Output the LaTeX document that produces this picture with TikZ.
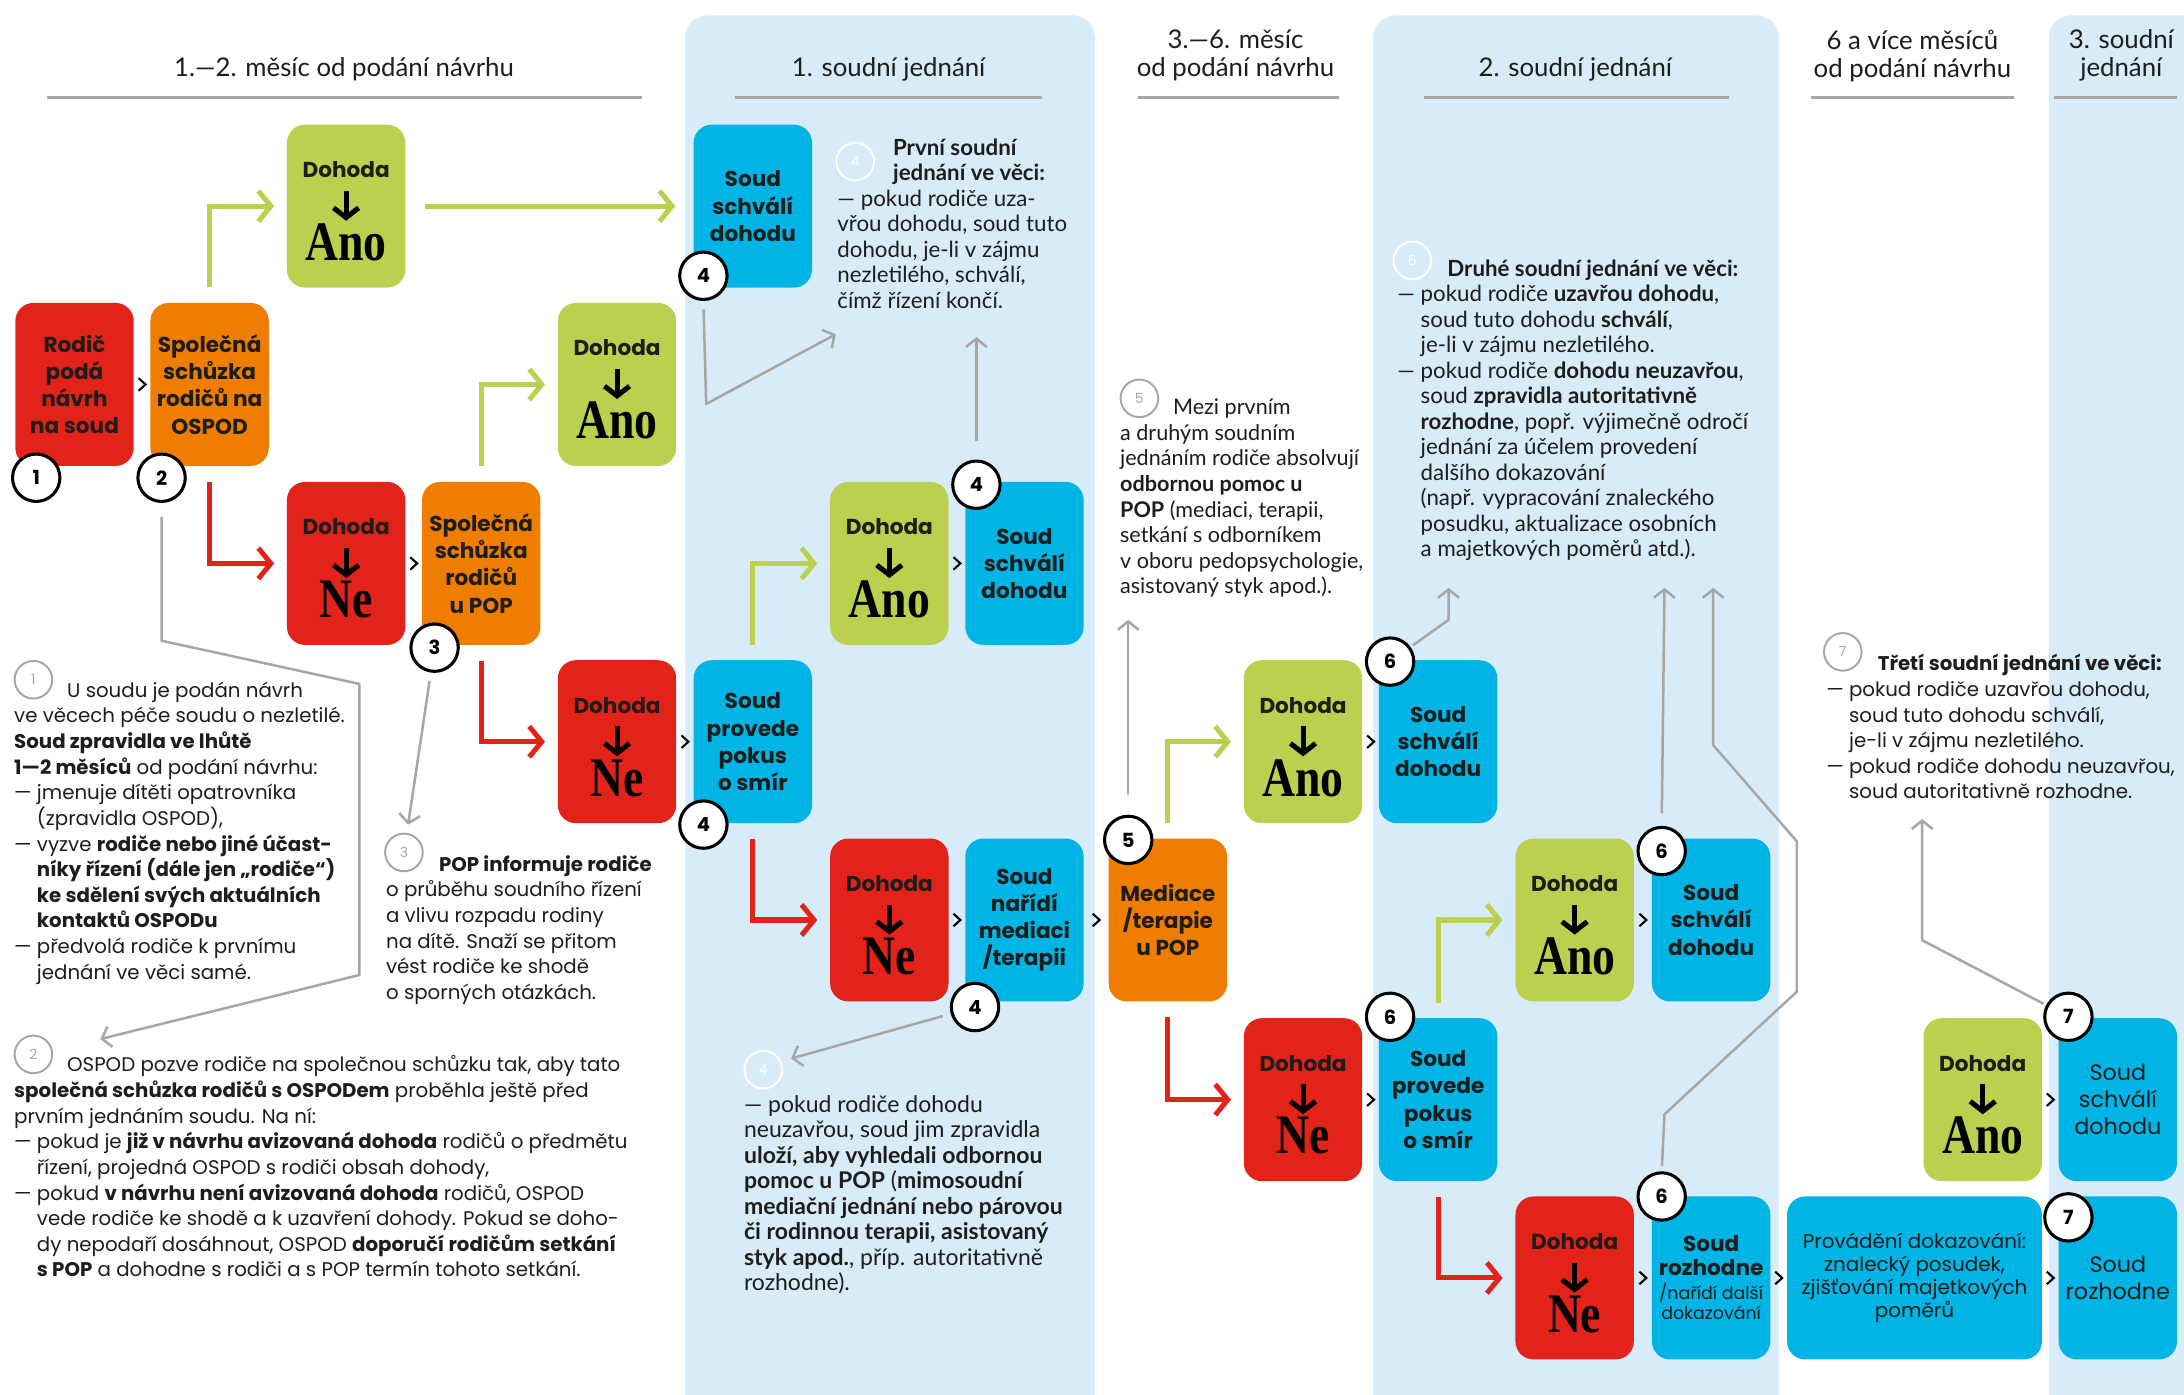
\documentclass[tikz,border=0pt]{standalone}
\usepackage{fontspec}
\setmainfont{Poppins}
\newfontfamily\lightf{Lato}
\newfontfamily\serifb[FakeStretch=0.82]{Liberation Serif}
\usetikzlibrary{arrows.meta,calc}
\definecolor{cred}{HTML}{E2231A}
\definecolor{corange}{HTML}{EF7D00}
\definecolor{cgreen}{HTML}{BDCF4E}
\definecolor{cblue}{HTML}{00B5E6}
\definecolor{cpanel}{HTML}{D7EBF8}
\definecolor{cgray}{HTML}{A6A6A6}
\definecolor{ctext}{HTML}{1D1D1B}
\tikzset{
  box/.style={rounded corners=13pt, minimum width=85pt, minimum height=117pt, inner sep=0pt, align=center, text=ctext, font=\fontsize{15.5}{19.5}\selectfont\bfseries},
  boxr/.style={box, font=\fontsize{16}{19.5}\selectfont},
  dlab/.style={anchor=base, inner sep=0pt, text=ctext, font=\fontsize{15.5}{19}\selectfont\bfseries},
  bigw/.style={anchor=base, inner sep=0pt, text=black, font=\serifb\bfseries\fontsize{40}{40}\selectfont},
  darr/.style={draw=black, line width=3.6pt, -{Straight Barb[length=7pt,width=18pt]}},
  garrow/.style={draw=cgreen, line width=3.6pt, shorten <=11pt, shorten >=9pt, -{Straight Barb[length=9pt,width=22pt]}},
  rarrow/.style={garrow, draw=cred},
  gline/.style={draw=cgray, line width=1.8pt, line join=round, -{Straight Barb[length=6pt,width=15pt]}},
  chev/.style={minimum width=8pt, minimum height=13pt, inner sep=0pt,
    path picture={\draw[line width=1.5pt, line join=miter] ([shift={(1.5pt,-2pt)}]path picture bounding box.north west) -- ([xshift=-1.5pt]path picture bounding box.east) -- ([shift={(1.5pt,2pt)}]path picture bounding box.south west);}},
  mcirc/.style={circle, draw=black, fill=white, line width=2.2pt, minimum size=34pt, inner sep=0pt, text=black, font=\fontsize{14}{14}\selectfont\bfseries},
  ncirc/.style={circle, draw=cgray, line width=1.4pt, minimum size=27pt, inner sep=0pt, text=cgray, font=\fontsize{10}{10}\selectfont},
  wcirc/.style={ncirc, draw=white, text=white},
  note/.style={anchor=north west, inner sep=0pt, align=left, text=ctext, font=\fontsize{14.2}{18.4}\selectfont},
  lnote/.style={note, font=\lightf\fontsize{16}{18.3}\selectfont},
  head/.style={align=center, inner sep=0pt, text=ctext, font=\lightf\fontsize{18.5}{20}\selectfont},
  hline/.style={draw=cgray, line width=1.5pt}
}
\newcommand\DBox[5]{%
  \node[box, fill=#4] (#1) at (#2,#3) {};
  \node[dlab] at ($(#1.center)+(0,-20.5)$) {Dohoda};
  \draw[darr] ($(#1.center)+(0,-11)$) -- ($(#1.center)+(0,10.5)$);
  \node[bigw] at ($(#1.center)+(0,39)$) {#5};
}
\begin{document}
\begin{tikzpicture}[x=1pt,y=-1pt]
\useasboundingbox (0,0) rectangle (1568,1001);
\fill[white] (0,0) rectangle (1568,1001);
% panels
\fill[cpanel, rounded corners=16pt] (492,11) rectangle (786,1040);
\fill[cpanel, rounded corners=16pt] (986,11) rectangle (1277,1040);
\fill[cpanel, rounded corners=16pt] (1471,11) rectangle (1620,1040);
% headers
\node[head] (h1) at (247,50) {1.—2. měsíc od podání návrhu};
\node[head] (h2) at (638,50) {1. soudní jednání};
\node[head] (h3) at (887,40) {3.—6. měsíc\\od podání návrhu};
\node[head] (h4) at (1131,50) {2. soudní jednání};
\node[head] (h5) at (1373,40) {6 a více měsíců\\od podání návrhu};
\node[head] (h6) at (1523,40) {3. soudní\\jednání};
\draw[hline] (34,70) -- (461,70);
\draw[hline] (528,70) -- (748,70);
\draw[hline] (817,70) -- (961,70);
\draw[hline] (1022,70) -- (1241,70);
\draw[hline] (1300,70) -- (1446,70);
\draw[hline] (1475,70) -- (1563,70);
% boxes
\node[box, fill=cred] (rodic) at (53.5,276) {Rodič\\podá\\návrh\\na soud};
\node[box, fill=corange] (ospod) at (150.5,276) {Společná\\schůzka\\rodičů na\\OSPOD};
\DBox{anoA}{248.5}{148}{cgreen}{Ano}
\node[box, fill=cblue] (soudA) at (540.5,148) {Soud\\schválí\\dohodu};
\DBox{anoB}{443}{276}{cgreen}{Ano}
\DBox{neA}{248.5}{404.5}{cred}{Ne}
\node[box, fill=corange] (popS) at (345.5,404.5) {Společná\\schůzka\\rodičů\\u POP};
\DBox{neB}{443}{532.5}{cred}{Ne}
\node[box, fill=cblue] (smirA) at (540.5,532.5) {Soud\\provede\\pokus\\o smír};
\DBox{anoC}{638.5}{404.5}{cgreen}{Ano}
\node[box, fill=cblue] (soudC) at (735.5,404.5) {Soud\\schválí\\dohodu};
\DBox{neC}{638.5}{660.5}{cred}{Ne}
\node[box, fill=cblue] (narid) at (735.5,660.5) {Soud\\nařídí\\mediaci\\/terapii};
\node[box, fill=corange] (medi) at (838.5,660.5) {Mediace\\/terapie\\u POP};
\DBox{anoD}{935.5}{532.5}{cgreen}{Ano}
\node[box, fill=cblue] (soudD) at (1032.5,532.5) {Soud\\schválí\\dohodu};
\DBox{neD}{935.5}{789.5}{cred}{Ne}
\node[box, fill=cblue] (smirB) at (1032.5,789.5) {Soud\\provede\\pokus\\o smír};
\DBox{anoE}{1130.5}{660.5}{cgreen}{Ano}
\node[box, fill=cblue] (soudE) at (1228.5,660.5) {Soud\\schválí\\dohodu};
\DBox{neE}{1130.5}{917.5}{cred}{Ne}
\node[box, fill=cblue] (rozh) at (1228.5,917.5) {Soud\\[-2.5pt]rozhodne\\[-2.5pt]{\fontsize{12.5}{13}\selectfont\mdseries /nařídí další}\\[-4.5pt]{\fontsize{12.5}{13}\selectfont\mdseries dokazování}};
\node[boxr, fill=cblue, minimum width=183pt, font=\fontsize{14.3}{16.5}\selectfont] (prov) at (1374.5,917.5) {Provádění dokazování:\\znalecký posudek,\\zjišťování majetkových\\poměrů};
\DBox{anoF}{1423.5}{789.5}{cgreen}{Ano}
\node[boxr, fill=cblue] (soudF) at (1520.5,789.5) {Soud\\schválí\\dohodu};
\node[boxr, fill=cblue] (rozhF) at (1520.5,917.5) {Soud\\rozhodne};
% chevrons
\foreach \a/\b in {rodic/ospod, neA/popS, neB/smirA, anoC/soudC, neC/narid, narid/medi, anoD/soudD, neD/smirB, anoE/soudE, neE/rozh, rozh/prov, anoF/soudF, prov/rozhF}
  \path (\a.east) -- node[chev]{} (\b.west);
% green / red connectors
\draw[garrow] (ospod.north) |- (anoA.west);
\draw[garrow, shorten <=14pt, shorten >=13pt] (anoA.east) -- (soudA.west);
\draw[rarrow] (ospod.south) |- (neA.west);
\draw[garrow] (popS.north) |- (anoB.west);
\draw[rarrow] (popS.south) |- (neB.west);
\draw[garrow] (smirA.north) |- (anoC.west);
\draw[rarrow] (smirA.south) |- (neC.west);
\draw[garrow] (medi.north) |- (anoD.west);
\draw[rarrow] (medi.south) |- (neD.west);
\draw[garrow] (smirB.north) |- (anoE.west);
\draw[rarrow] (smirB.south) |- (neE.west);
% numbered circles
\node[mcirc] (c1) at (26,343) {1};
\node[mcirc] (c2) at (116,343) {2};
\node[mcirc] (c3) at (312,465) {3};
\node[mcirc] (c4a) at (505,198) {4};
\node[mcirc] (c4b) at (505,592) {4};
\node[mcirc] (c4c) at (701,348) {4};
\node[mcirc] (c4d) at (700,723) {4};
\node[mcirc] (c5) at (810,603) {5};
\node[mcirc] (c6a) at (998,475) {6};
\node[mcirc] (c6b) at (998,730) {6};
\node[mcirc] (c6c) at (1193,611) {6};
\node[mcirc] (c6d) at (1193,859) {6};
\node[mcirc] (c7a) at (1485,730) {7};
\node[mcirc] (c7b) at (1485,874) {7};
% note circles
\node[ncirc] (n1) at (24,488) {1};
\node[ncirc] (n2) at (24,757) {2};
\node[ncirc] (n3) at (290,612) {3};
\node[wcirc] (n4) at (614,116) {4};
\node[wcirc] (n4b) at (548,768) {4};
\node[ncirc] (n5) at (818,286) {5};
\node[wcirc] (n6) at (1014,187) {6};
\node[ncirc] (n7) at (1323,468) {7};
% gray pointer tips
\coordinate (t2) at (72,746);
\coordinate (t3) at (293,592);
\coordinate (t4a) at (600,240);
\coordinate (t4c) at (701,242);
\coordinate (t4d) at (568,760);
\coordinate (t5) at (810,445);
\coordinate (t6a) at (1040,422);
\coordinate (t6c) at (1195,422);
\coordinate (t6d) at (1230,422);
\coordinate (t7) at (1380,588);
% gray connectors
\draw[gline, shorten <=10pt] (c2) -- (116,460) -- (258,491) -- (258,700) -- (t2);
\draw[gline, shorten <=6pt] (c3) -- (t3);
\draw[gline, shorten <=6pt] (c4a.south) -- (507,290) -- (t4a);
\draw[gline, shorten <=13pt] (c4c.north) -- (t4c);
\draw[gline, shorten <=6pt] (c4d) -- (t4d);
\draw[gline, shorten <=14pt] (c5.north) -- (t5);
\draw[gline, shorten <=2pt] (c6a) -- (1040,445) -- (t6a);
\draw[gline, shorten <=9pt] (c6c.north) -- (t6c);
\draw[gline, shorten <=4pt] (c6d.north) -- (1195,800) -- (1290,712) -- (1290,604) -- (1230,535) -- (t6d);
\draw[gline, shorten <=2pt] (c7a) -- (1380,675) -- (t7);
% notes
\node[note] (note1) at (10,487.5) {\strut\hspace*{38pt}U soudu je podán návrh\\
ve věcech péče soudu o nezletilé.\\
\textbf{Soud zpravidla ve lhůtě}\\
\textbf{1—2 měsíců} od podání návrhu:\\
— jmenuje dítěti opatrovníka\\
\hphantom{— }(zpravidla OSPOD),\\
— vyzve \textbf{rodiče nebo jiné účast-}\\
\hphantom{— }\textbf{níky řízení (dále jen „rodiče“)}\\
\hphantom{— }\textbf{ke sdělení svých aktuálních}\\
\hphantom{— }\textbf{kontaktů OSPODu}\\
— předvolá rodiče k prvnímu\\
\hphantom{— }jednání ve věci samé.};
\node[note] (note2) at (10,756.5) {\strut\hspace*{38pt}OSPOD pozve rodiče na společnou schůzku tak, aby tato\\
\textbf{společná schůzka rodičů s OSPODem} proběhla ještě před\\
prvním jednáním soudu. Na ní:\\
— pokud je \textbf{již v návrhu avizovaná dohoda} rodičů o předmětu\\
\hphantom{— }řízení, projedná OSPOD s rodiči obsah dohody,\\
— pokud \textbf{v návrhu není avizovaná dohoda} rodičů, OSPOD\\
\hphantom{— }vede rodiče ke shodě a k uzavření dohody. Pokud se doho-\\
\hphantom{— }dy nepodaří dosáhnout, OSPOD \textbf{doporučí rodičům setkání}\\
\hphantom{— }\textbf{s POP} a dohodne s rodiči a s POP termín tohoto setkání.};
\node[note] (note3) at (277,612.5) {\strut\hspace*{38pt}\textbf{POP informuje rodiče}\\
o průběhu soudního řízení\\
a vlivu rozpadu rodiny\\
na dítě. Snaží se přitom\\
vést rodiče ke shodě\\
o sporných otázkách.};
\node[lnote] (note4) at (601,98.5) {\strut\hspace*{40pt}\textbf{První soudní}\\
\hspace*{40pt}\textbf{jednání ve věci:}\\
— pokud rodiče uza-\\
vřou dohodu, soud tuto\\
dohodu, je-li v zájmu\\
nezletilého, schválí,\\
čímž řízení končí.};
\node[lnote, font=\lightf\fontsize{16.5}{18.3}\selectfont] (note4b) at (534,785.5) {\strut— pokud rodiče dohodu\\
neuzavřou, soud jim zpravidla\\
\textbf{uloží, aby vyhledali odbornou}\\
\textbf{pomoc u POP} (\textbf{mimosoudní}\\
\textbf{mediační jednání nebo párovou}\\
\textbf{či rodinnou terapii, asistovaný}\\
\textbf{styk apod.}, příp. autoritativně\\
rozhodne).};
\node[lnote, font=\lightf\fontsize{15.5}{18.4}\selectfont] (note5) at (804,284.5) {\strut\hspace*{38pt}Mezi prvním\\
a druhým soudním\\
jednáním rodiče absolvují\\
\textbf{odbornou pomoc u}\\
\textbf{POP} (mediaci, terapii,\\
setkání s odborníkem\\
v oboru pedopsychologie,\\
asistovaný styk apod.).};
\node[lnote] (note6) at (1003,185.5) {\strut\hspace*{36pt}\textbf{Druhé soudní jednání ve věci:}\\
— pokud rodiče \textbf{uzavřou dohodu},\\
\hphantom{— }soud tuto dohodu \textbf{schválí},\\
\hphantom{— }je-li v zájmu nezletilého.\\
— pokud rodiče \textbf{dohodu neuzavřou},\\
\hphantom{— }soud \textbf{zpravidla autoritativně}\\
\hphantom{— }\textbf{rozhodne}, popř. výjimečně odročí\\
\hphantom{— }jednání za účelem provedení\\
\hphantom{— }dalšího dokazování\\
\hphantom{— }(např. vypracování znaleckého\\
\hphantom{— }posudku, aktualizace osobních\\
\hphantom{— }a majetkových poměrů atd.).};
\node[note] (note7) at (1311,468.5) {\strut\hspace*{37pt}\textbf{Třetí soudní jednání ve věci:}\\
— pokud rodiče uzavřou dohodu,\\
\hphantom{— }soud tuto dohodu schválí,\\
\hphantom{— }je-li v zájmu nezletilého.\\
— pokud rodiče dohodu neuzavřou,\\
\hphantom{— }soud autoritativně rozhodne.};
\end{tikzpicture}
\end{document}
